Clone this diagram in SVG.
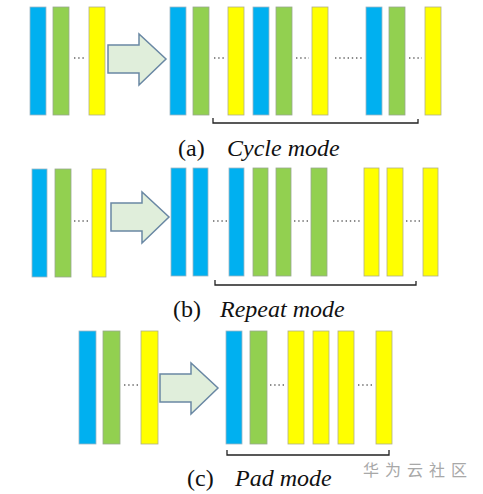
<svg xmlns="http://www.w3.org/2000/svg" width="483" height="494" viewBox="0 0 483 494">
<style>
.b{fill:#00B0F0;stroke:#9fb7c4;stroke-width:0.8}
.g{fill:#92D050;stroke:#9aa890;stroke-width:0.8}
.y{fill:#FFFF00;stroke:#b0b08a;stroke-width:0.8}
.dots{stroke:#666;stroke-width:1.4;stroke-dasharray:1.4 2.8;fill:none}
.arr{fill:#e0eedb;stroke:#6a88a4;stroke-width:1.5;stroke-linejoin:miter}
.br{fill:none;stroke:#222;stroke-width:1.3}
.t{font-family:"Liberation Serif","Times New Roman",serif;font-size:24px;fill:#111}
.i{font-style:italic}
.wm{font-family:"Noto Sans CJK SC",sans-serif;font-size:16px;fill:#a8a8a8;letter-spacing:6px}
</style>
<defs>
<polygon id="arrow" class="arr" points="108,45 139,45 139,34 166,59 139,85 139,73 108,73"/>
</defs>
<rect width="483" height="494" fill="#fff"/>

<g id="cycle-mode">
<g id="a-input">
<rect class="b" x="30" y="7" width="16" height="108"/>
<rect class="g" x="53" y="7" width="16" height="108"/>
<rect class="y" x="89" y="7" width="16" height="108"/>
<line class="dots" x1="74" y1="58" x2="86" y2="58"/>
</g>
<g id="a-arrow"><use href="#arrow"/></g>
<g id="a-output">
<rect class="b" x="170" y="7" width="16" height="108"/>
<rect class="g" x="193" y="7" width="16" height="108"/>
<rect class="y" x="228" y="7" width="16" height="108"/>
<rect class="b" x="253" y="7" width="16" height="108"/>
<rect class="g" x="276" y="7" width="16" height="108"/>
<rect class="y" x="312" y="7" width="16" height="108"/>
<rect class="b" x="366" y="7" width="16" height="108"/>
<rect class="g" x="389" y="7" width="16" height="108"/>
<rect class="y" x="425" y="7" width="16" height="108"/>
<line class="dots" x1="214" y1="58" x2="226" y2="58"/>
<line class="dots" x1="296" y1="58" x2="309" y2="58"/>
<line class="dots" x1="335" y1="58" x2="364" y2="58"/>
<line class="dots" x1="409" y1="58" x2="422" y2="58"/>
</g>
<path class="br" d="M213,118 V123 H418 V119"/>
<text class="t" x="178" y="156">(a)</text>
<text class="t i" x="227" y="156">Cycle mode</text>
</g>

<g id="repeat-mode">
<g id="b-input">
<rect class="b" x="32" y="169" width="15" height="108"/>
<rect class="g" x="55" y="169" width="16" height="108"/>
<rect class="y" x="92" y="169" width="14" height="108"/>
<line class="dots" x1="74" y1="221" x2="88" y2="221"/>
</g>
<g id="b-arrow"><use href="#arrow" x="3" y="158"/></g>
<g id="b-output">
<rect class="b" x="171" y="168" width="15" height="108"/>
<rect class="b" x="193" y="168" width="15" height="108"/>
<rect class="b" x="229" y="168" width="15" height="108"/>
<rect class="g" x="253" y="168" width="15" height="108"/>
<rect class="g" x="276" y="168" width="15" height="108"/>
<rect class="g" x="311" y="168" width="16" height="108"/>
<rect class="y" x="364" y="168" width="15" height="108"/>
<rect class="y" x="387" y="168" width="16" height="108"/>
<rect class="y" x="423" y="168" width="15" height="108"/>
<line class="dots" x1="213" y1="221" x2="227" y2="221"/>
<line class="dots" x1="294" y1="221" x2="309" y2="221"/>
<line class="dots" x1="333" y1="221" x2="362" y2="221"/>
<line class="dots" x1="406" y1="221" x2="420" y2="221"/>
</g>
<path class="br" d="M215,280 V285 H416 V281"/>
<text class="t" x="173" y="317">(b)</text>
<text class="t i" x="220" y="317">Repeat mode</text>
</g>

<g id="pad-mode">
<g id="c-input">
<rect class="b" x="79" y="331" width="17" height="113"/>
<rect class="g" x="103" y="331" width="17" height="113"/>
<rect class="y" x="141" y="331" width="17" height="113"/>
<line class="dots" x1="124" y1="385" x2="139" y2="385"/>
</g>
<g id="c-arrow"><use href="#arrow" x="52" y="329"/></g>
<g id="c-output">
<rect class="b" x="226" y="331" width="16" height="113"/>
<rect class="g" x="250" y="331" width="17" height="113"/>
<rect class="y" x="288" y="331" width="16" height="113"/>
<rect class="y" x="313" y="331" width="16" height="113"/>
<rect class="y" x="338" y="331" width="16" height="113"/>
<rect class="y" x="376" y="331" width="16" height="113"/>
<line class="dots" x1="270" y1="385" x2="286" y2="385"/>
<line class="dots" x1="358" y1="385" x2="373" y2="385"/>
</g>
<path class="br" d="M227,450 V455 H389 V450"/>
<text class="t" x="187" y="486">(c)</text>
<text class="t i" x="235" y="486">Pad mode</text>
</g>

<text class="wm" x="363" y="476">华为云社区</text>
</svg>
